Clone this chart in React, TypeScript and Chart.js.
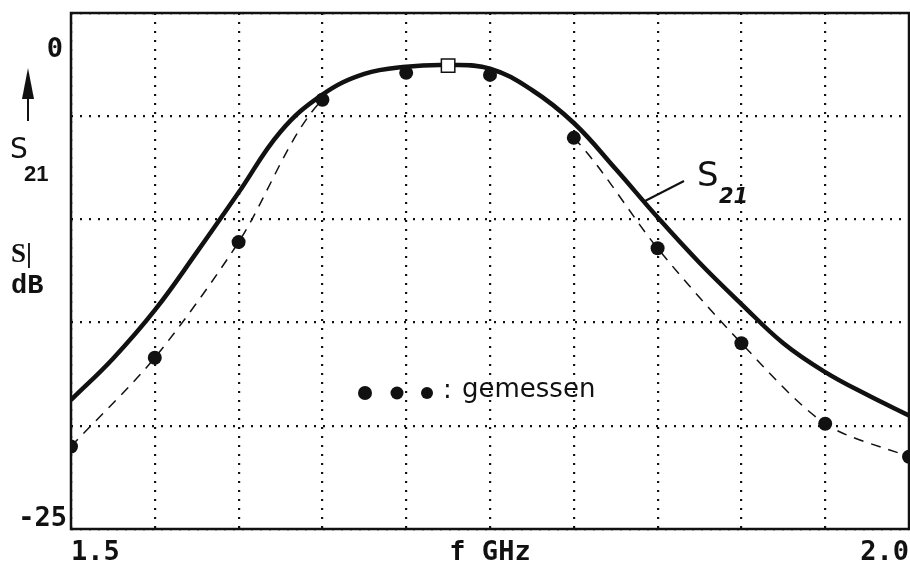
import React, { useEffect, useRef } from 'react';
import { Chart, registerables } from 'chart.js';

Chart.register(...registerables);

// Simulated S21 (solid curve)
const simFreq = [1.5, 1.525, 1.55, 1.575, 1.6, 1.625, 1.65, 1.675, 1.7, 1.725, 1.75, 1.775, 1.8, 1.825, 1.85, 1.875, 1.9, 1.925, 1.95, 1.975, 2.0];
const simS21 = [-18.75, -16.75, -14.4, -11.6, -8.7, -5.75, -3.95, -2.95, -2.6, -2.52, -2.7, -3.73, -5.33, -7.56, -9.9, -12.1, -14.1, -16.0, -17.4, -18.5, -19.5];

// Measured points ("gemessen"), dashed line
const measFreq = [1.5, 1.55, 1.6, 1.65, 1.7, 1.75, 1.8, 1.85, 1.9, 1.95, 2.0];
const measS21 = [-21.0, -16.7, -11.1, -4.2, -2.9, -3.0, -6.05, -11.4, -16.0, -19.9, -21.5];

// Marked maximum (square)
const peakFreq = [1.725];
const peakS21 = [-2.55];

// Axis range / labels
const xMin = 1.5;
const xMax = 2.0;
const xStep = 0.05;
const yMin = -25;
const yMax = 0;
const yStep = 5;
const xTickLabels: Record<string, string> = { '1.5': '1.5', '1.75': 'f GHz', '2.0': '2.0' };
const yTopLabel = '0';
const yBottomLabel = '-25';
const legendText = 'gemessen';
const curveLabel = 'S';
const curveLabelSub = '21';
// dashed fit is hidden under the simulated curve in this band
const hiddenBand = [1.65, 1.8];

const MONO = '"DejaVu Sans Mono", "Liberation Mono", monospace';
const SANS = '"DejaVu Sans", "Liberation Sans", sans-serif';
const INK = '#111';

const decorations = {
  id: 'decorations',
  afterDraw(chart: any) {
    const { ctx, chartArea: a } = chart;
    const L = a.left;
    const T = a.top;
    ctx.save();
    // frame
    ctx.strokeStyle = INK;
    ctx.lineWidth = 2.5;
    ctx.setLineDash([]);
    ctx.strokeRect(a.left, a.top, a.right - a.left, a.bottom - a.top);

    ctx.fillStyle = INK;
    // y labels
    ctx.font = `bold 27px ${MONO}`;
    ctx.textAlign = 'right';
    ctx.textBaseline = 'middle';
    ctx.fillText(yTopLabel, L - 8, T + 37);
    ctx.fillText(yBottomLabel, L - 4, a.bottom - 10);

    // arrow
    ctx.beginPath();
    ctx.moveTo(L - 43, T + 55);
    ctx.lineTo(L - 49, T + 86);
    ctx.lineTo(L - 37, T + 86);
    ctx.closePath();
    ctx.fill();
    ctx.lineWidth = 2;
    ctx.strokeStyle = INK;
    ctx.beginPath();
    ctx.moveTo(L - 43, T + 84);
    ctx.lineTo(L - 43, T + 108);
    ctx.stroke();

    // S21 (left)
    ctx.textAlign = 'left';
    ctx.textBaseline = 'alphabetic';
    ctx.font = `28px ${SANS}`;
    ctx.fillText('S', L - 61, T + 145);
    ctx.font = `bold 22px "Liberation Sans", sans-serif`;
    ctx.fillText('21', L - 47, T + 168);

    // S| dB
    ctx.font = `bold 27px "Liberation Serif", serif`;
    ctx.fillText('S|', L - 60, T + 249);
    ctx.font = `bold 27px "Liberation Mono", monospace`;
    ctx.fillText('dB', L - 60, T + 280);

    // curve label S21 with leader
    ctx.lineWidth = 2;
    ctx.beginPath();
    ctx.moveTo(L + 574, T + 188);
    ctx.lineTo(L + 613, T + 168);
    ctx.stroke();
    ctx.font = `34px ${SANS}`;
    ctx.fillText(curveLabel, L + 626, T + 173);
    ctx.font = `italic bold 21px ${SANS}`;
    ctx.fillText(curveLabelSub, L + 648, T + 190);

    // legend
    const ly = T + 380;
    [[294, 7], [326, 6.5], [356, 6]].forEach(([dx, r]) => {
      ctx.beginPath();
      ctx.arc(L + dx, ly, r, 0, Math.PI * 2);
      ctx.fill();
    });
    ctx.font = `26px ${SANS}`;
    ctx.textBaseline = 'middle';
    ctx.fillText(':', L + 372, ly - 2);
    ctx.fillText(legendText, L + 391, ly - 3);
    ctx.restore();
  },
};

export default function App() {
  const ref = useRef<HTMLCanvasElement>(null);
  useEffect(() => {
    if (!ref.current) return;
    const chart = new Chart(ref.current, {
      type: 'line',
      data: {
        datasets: [
          {
            label: 'gemessen',
            data: measFreq.map((x, i) => ({ x, y: measS21[i] })),
            borderColor: INK,
            backgroundColor: INK,
            borderWidth: 1.5,
            borderDash: [10, 8],
            tension: 0.3,
            pointRadius: 7,
            pointBorderWidth: 0,
            pointBackgroundColor: INK,
            segment: {
              borderColor: (c: any) =>
                c.p0.parsed.x >= hiddenBand[0] - 1e-6 && c.p1.parsed.x <= hiddenBand[1] + 1e-6 ? 'rgba(0,0,0,0)' : INK,
            },
            order: 0,
          },
          {
            label: 'Maximum',
            data: peakFreq.map((x, i) => ({ x, y: peakS21[i] })),
            showLine: false,
            pointStyle: 'rect',
            pointRadius: 9.5,
            pointBackgroundColor: '#fff',
            pointBorderColor: INK,
            pointBorderWidth: 1.5,
            order: 1,
          },
          {
            label: 'S21',
            data: simFreq.map((x, i) => ({ x, y: simS21[i] })),
            borderColor: INK,
            borderWidth: 4.5,
            tension: 0.4,
            pointRadius: 0,
            order: 2,
          },
        ],
      },
      options: {
        animation: false,
        responsive: false,
        devicePixelRatio: 1,
        layout: { autoPadding: false, padding: { top: 13, right: 1, left: 0, bottom: 0 } },
        plugins: { legend: { display: false }, tooltip: { enabled: false } },
        scales: {
          x: {
            type: 'linear',
            min: xMin,
            max: xMax,
            afterFit: (s: any) => { s.height = 37; s.paddingLeft = 0; s.paddingRight = 0; },
            grid: { color: INK, lineWidth: 2.2, drawTicks: false },
            border: { display: false, dash: [2, 7] },
            ticks: {
              stepSize: xStep,
              autoSkip: false,
              maxRotation: 0,
              align: 'inner',
              padding: 8,
              color: INK,
              font: { family: MONO, size: 27, weight: 'bold' },
              callback: (v: any) => {
                const n = Number(v);
                const key = Math.abs(n - 1.75) < 1e-6 ? '1.75' : Math.abs(n - 1.5) < 1e-6 ? '1.5' : Math.abs(n - 2) < 1e-6 ? '2.0' : '';
                return key ? xTickLabels[key] : '';
              },
            },
          },
          y: {
            type: 'linear',
            min: yMin,
            max: yMax,
            afterFit: (s: any) => { s.width = 71; },
            grid: { color: INK, lineWidth: 2.2, drawTicks: false },
            border: { display: false, dash: [2, 7] },
            ticks: { stepSize: yStep, display: false },
          },
        },
      },
      plugins: [decorations],
    } as any);
    return () => chart.destroy();
  }, []);
  return (
    <div style={{ position: 'absolute', left: 0, top: 0, width: 910, height: 566, background: '#fff' }}>
      <canvas ref={ref} width={910} height={566} style={{ display: 'block' }} />
    </div>
  );
}
